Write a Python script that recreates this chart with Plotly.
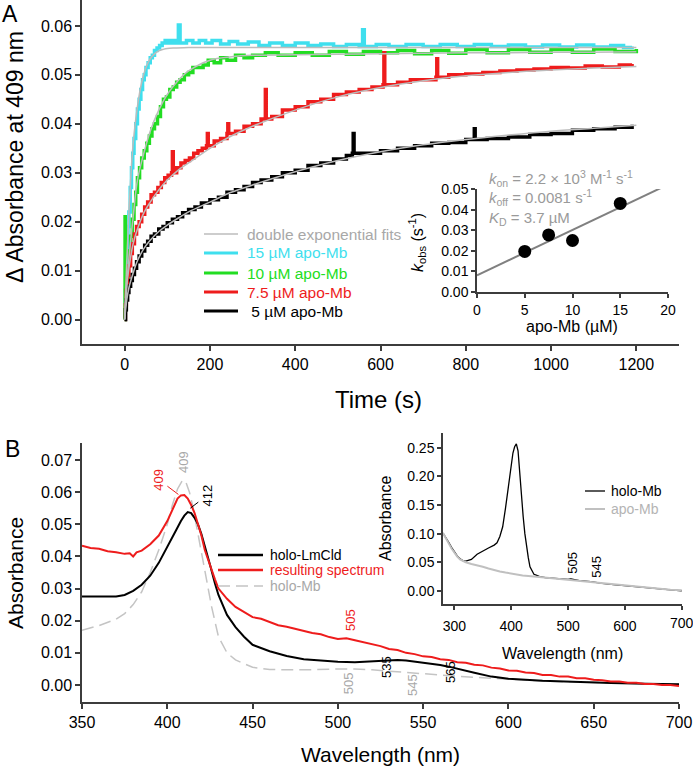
import plotly.graph_objects as go

W, H = 693, 771
FONT = "Liberation Sans, Arial, sans-serif"

# ---- panel A: binding kinetics (time in s, delta absorbance at 409 nm) ----
t_15 = [0, 2, 4, 6, 8, 10, 13, 16, 19, 22, 26, 30, 34, 38, 42, 46, 50, 55, 60, 65, 70, 76, 82, 88,
        95, 102, 110, 118, 124, 126, 130, 145, 160, 175, 190, 205, 225, 245, 265, 290, 315, 340,
        370, 400, 430, 460, 490, 520, 550, 558, 562, 590, 620, 660, 700, 740, 780, 820, 860, 900,
        940, 980, 1020, 1060, 1100, 1140, 1170, 1190]
a_15 = [0, 0.006, 0.011, 0.015, 0.019, 0.022, 0.027, 0.031, 0.034, 0.037, 0.040, 0.043, 0.045,
        0.047, 0.049, 0.050, 0.0515, 0.0525, 0.0535, 0.054, 0.055, 0.0555, 0.056, 0.0565, 0.057,
        0.0565, 0.057, 0.0565, 0.057, 0.0602, 0.0565, 0.057, 0.0565, 0.057, 0.0565, 0.057, 0.0563,
        0.0568, 0.0563, 0.0567, 0.056, 0.0565, 0.056, 0.0565, 0.056, 0.0563, 0.0558, 0.0562, 0.0558,
        0.0592, 0.0558, 0.0562, 0.0558, 0.0562, 0.0558, 0.0562, 0.0558, 0.0562, 0.0558, 0.0561,
        0.0557, 0.0561, 0.0557, 0.0561, 0.0557, 0.056, 0.0556, 0.0558]

t_10 = [0, 1, 1.5, 3, 5, 8, 11, 14, 18, 22, 26, 30, 35, 40, 46, 52, 58, 64, 70, 77, 84, 91, 98,
        106, 114, 122, 130, 140, 150, 160, 172, 184, 196, 210, 225, 240, 260, 280, 300, 330, 360,
        400, 440, 480, 520, 560, 600, 640, 680, 720, 760, 800, 850, 900, 950, 1000, 1050, 1100,
        1150, 1200]
a_10 = [0, 0.021, 0.002, 0.005, 0.0075, 0.011, 0.014, 0.017, 0.0205, 0.0235, 0.026, 0.029, 0.031,
        0.033, 0.0345, 0.036, 0.0375, 0.039, 0.040, 0.0415, 0.0435, 0.045, 0.0455, 0.047, 0.0475,
        0.0485, 0.049, 0.050, 0.0505, 0.0515, 0.0515, 0.052, 0.053, 0.0525, 0.0535, 0.053, 0.054,
        0.0535, 0.054, 0.0545, 0.054, 0.0545, 0.054, 0.0548, 0.0542, 0.0548, 0.0545, 0.055,
        0.0543, 0.055, 0.0544, 0.0552, 0.0545, 0.0552, 0.0546, 0.0552, 0.0546, 0.0553, 0.0548,
        0.0553]

t_75 = [0, 2, 4, 7, 10, 14, 18, 23, 28, 34, 40, 47, 54, 62, 70, 78, 86, 94, 102, 110, 112, 114,
        122, 132, 142, 152, 162, 172, 182, 192, 194, 196, 210, 225, 240, 242, 244, 260, 280, 300,
        320, 330, 332, 345, 370, 400, 430, 460, 490, 520, 550, 580, 606, 608, 610, 640, 670, 700,
        730, 732, 734, 760, 800, 840, 880, 920, 960, 1000, 1040, 1080, 1120, 1160, 1190]
a_75 = [0, 0.003, 0.006, 0.009, 0.011, 0.0135, 0.0155, 0.0175, 0.019, 0.020, 0.0215, 0.023, 0.024,
        0.0255, 0.026, 0.027, 0.028, 0.029, 0.0295, 0.030, 0.0343, 0.030, 0.031, 0.032, 0.0325,
        0.033, 0.034, 0.0345, 0.035, 0.0355, 0.038, 0.0355, 0.0365, 0.037, 0.038, 0.040, 0.038,
        0.0385, 0.0395, 0.040, 0.041, 0.047, 0.041, 0.0415, 0.0428, 0.0435, 0.0445, 0.045, 0.046,
        0.0465, 0.047, 0.0475, 0.048, 0.0545, 0.048, 0.0485, 0.049, 0.049, 0.0495, 0.0533, 0.0495,
        0.050, 0.0502, 0.0505, 0.0508, 0.051, 0.0512, 0.0515, 0.0514, 0.0518, 0.0516, 0.052, 0.0522]

t_5 = [0, 2, 4, 7, 10, 14, 18, 23, 28, 34, 40, 47, 54, 62, 70, 80, 90, 100, 112, 124, 136, 150,
       165, 180, 200, 220, 240, 260, 280, 300, 320, 345, 370, 400, 430, 460, 490, 520, 534, 536,
       538, 560, 600, 640, 680, 720, 760, 800, 818, 820, 822, 850, 900, 950, 1000, 1050, 1100,
       1150, 1190]
a_5 = [0, 0.002, 0.004, 0.0055, 0.0068, 0.008, 0.0092, 0.0105, 0.0118, 0.013, 0.014, 0.0152,
       0.016, 0.017, 0.0175, 0.0185, 0.019, 0.0198, 0.0205, 0.021, 0.0218, 0.0225, 0.023, 0.0238,
       0.0245, 0.025, 0.026, 0.0265, 0.0272, 0.028, 0.0285, 0.0292, 0.030, 0.0305, 0.0315, 0.032,
       0.0328, 0.0335, 0.034, 0.038, 0.034, 0.034, 0.0345, 0.035, 0.0355, 0.036, 0.0362, 0.0368,
       0.0368, 0.039, 0.0368, 0.037, 0.0373, 0.0378, 0.038, 0.0387, 0.039, 0.0393, 0.0398]

# double exponential fits
t_fit_15 = [0, 5, 10, 15, 20, 30, 40, 50, 60, 70, 80, 90, 100, 120, 150, 200, 300, 500, 800, 1200]
fit_15 = [0, 0.012, 0.022, 0.030, 0.036, 0.0435, 0.0485, 0.0515, 0.0533, 0.0543, 0.0549, 0.0552,
          0.0554, 0.0555, 0.0556, 0.0556, 0.0556, 0.0556, 0.0556, 0.0556]
t_fit = [0, 5, 10, 20, 30, 45, 60, 80, 100, 125, 150, 200, 250, 300, 400, 500, 600, 700, 800, 900,
         1000, 1100, 1200]
fit_10 = [0, 0.007, 0.0125, 0.021, 0.0285, 0.034, 0.0385, 0.0428, 0.046, 0.0488, 0.0508, 0.053,
          0.0537, 0.054, 0.0541, 0.0542, 0.0543, 0.0544, 0.0545, 0.0545, 0.0546, 0.0546, 0.0547]
fit_75 = [0, 0.007, 0.0105, 0.0155, 0.0185, 0.0218, 0.024, 0.0265, 0.0285, 0.0305, 0.032, 0.035,
          0.0375, 0.0395, 0.0428, 0.0455, 0.0474, 0.0488, 0.0498, 0.0505, 0.051, 0.0514, 0.0517]
fit_5 = [0, 0.004, 0.0065, 0.0095, 0.012, 0.0145, 0.0162, 0.018, 0.0193, 0.0207, 0.022, 0.024,
         0.026, 0.0275, 0.0302, 0.0325, 0.0343, 0.0357, 0.0368, 0.0377, 0.0385, 0.0391, 0.0397]

# inset A: observed rate vs apo-Mb
apo_conc = [5, 7.5, 10, 15]
k_obs = [0.0197, 0.0277, 0.025, 0.043]
kfit_x = [0, 19.3]
kfit_y = [0.0081, 0.0506]

legend_a = ["double exponential fits", "15 µM apo-Mb", "10 µM apo-Mb", "7.5 µM apo-Mb",
            "\u00a05 µM apo-Mb"]

# ---- panel B: spectra ----
wl_lmcld = [350, 360, 370, 375, 380, 385, 390, 395, 400, 405, 408, 410, 412, 414, 416, 418, 420,
            422, 425, 428, 430, 435, 440, 445, 450, 460, 470, 480, 490, 500, 510, 520, 530, 535,
            540, 550, 560, 565, 570, 580, 590, 600, 620, 640, 660, 680, 700]
abs_lmcld = [0.0275, 0.0274, 0.0275, 0.0280, 0.0293, 0.0312, 0.0340, 0.0380, 0.0428, 0.0480,
             0.0510, 0.0527, 0.0538, 0.0535, 0.0520, 0.0500, 0.0470, 0.0435, 0.0375, 0.0315,
             0.0280, 0.0218, 0.0180, 0.0150, 0.0125, 0.0105, 0.0090, 0.0080, 0.0075, 0.0072,
             0.0071, 0.0073, 0.0077, 0.0078, 0.0076, 0.0070, 0.0062, 0.0057, 0.0050, 0.0038,
             0.0026, 0.0019, 0.0013, 0.0009, 0.0006, 0.0004, 0.0002]

wl_res = [350, 355, 360, 365, 370, 375, 378, 380, 382, 385, 390, 395, 400, 403, 406, 408, 410, 412,
          414, 416, 418, 420, 422, 425, 428, 430, 435, 440, 445, 450, 455, 460, 465, 470, 475, 480,
          485, 490, 495, 500, 505, 510, 515, 520, 525, 530, 535, 540, 545, 550, 555, 560, 565, 570,
          575, 580, 585, 590, 595, 600, 605, 610, 615, 620, 625, 630, 635, 640, 645, 650, 655, 660,
          665, 670, 675, 680, 685, 690, 695, 700]
abs_res = [0.0433, 0.0426, 0.0424, 0.0416, 0.0413, 0.0408, 0.0410, 0.0400, 0.0413, 0.0418, 0.0438,
           0.0465, 0.0510, 0.0545, 0.0580, 0.0590, 0.0591, 0.0580, 0.0560, 0.0535, 0.0500, 0.0465,
           0.0420, 0.0372, 0.0328, 0.0300, 0.0268, 0.0243, 0.0226, 0.0211, 0.0206, 0.0195, 0.0186,
           0.0181, 0.0174, 0.0169, 0.0162, 0.0158, 0.0149, 0.0143, 0.0145, 0.0139, 0.0133, 0.0125,
           0.0121, 0.0112, 0.0109, 0.0100, 0.0096, 0.0089, 0.0087, 0.0080, 0.0078, 0.0071, 0.0069,
           0.0063, 0.0061, 0.0054, 0.0051, 0.0045, 0.0044, 0.0039, 0.0037, 0.0031, 0.0031, 0.0026,
           0.0026, 0.0021, 0.0021, 0.0016, 0.0015, 0.0011, 0.0011, 0.0007, 0.0007, 0.0003, 0.0003,
           0.0000, 0.0000, -0.0003]

wl_mb = [350, 360, 370, 375, 380, 385, 390, 395, 400, 403, 406, 409, 411, 413, 415, 418, 420, 423,
         426, 430, 435, 440, 450, 460, 480, 500, 510, 520, 540, 560, 580, 600, 620, 640, 660, 680,
         700]
abs_mb = [0.0170, 0.0185, 0.0205, 0.0222, 0.0250, 0.0290, 0.0350, 0.0420, 0.0500, 0.0560, 0.0610,
          0.0638, 0.0630, 0.0600, 0.0555, 0.0470, 0.0410, 0.0320, 0.0243, 0.0150, 0.0100, 0.0078,
          0.0055, 0.0048, 0.0047, 0.0050, 0.0050, 0.0047, 0.0038, 0.0031, 0.0024, 0.0018, 0.0012,
          0.0009, 0.0006, 0.0004, 0.0002]

legend_b = ["holo-LmCld", "resulting spectrum", "holo-Mb"]

# inset B: myoglobin spectra
wl_holo = [280, 285, 290, 295, 300, 305, 310, 315, 320, 325, 330, 340, 350, 360, 370, 375, 380,
           385, 390, 395, 400, 403, 406, 409, 412, 415, 418, 421, 424, 427, 430, 433, 437, 440,
           445, 450, 460, 480, 500, 505, 510, 520, 540, 545, 560, 580, 600, 620, 640, 660, 680, 700]
abs_holo = [0.101, 0.094, 0.085, 0.076, 0.068, 0.061, 0.056, 0.053, 0.052, 0.053, 0.055, 0.064,
            0.070, 0.075, 0.080, 0.084, 0.095, 0.112, 0.145, 0.180, 0.222, 0.241, 0.252, 0.257,
            0.245, 0.200, 0.165, 0.130, 0.100, 0.077, 0.058, 0.042, 0.033, 0.029, 0.027, 0.025,
            0.023, 0.021, 0.020, 0.021, 0.020, 0.018, 0.016, 0.015, 0.013, 0.011, 0.009, 0.007,
            0.006, 0.004, 0.002, 0.000]
wl_apo = [280, 285, 290, 295, 300, 305, 310, 320, 330, 340, 350, 360, 370, 380, 390, 400, 420, 440,
          460, 480, 500, 520, 540, 560, 580, 600, 620, 640, 660, 680, 700]
abs_apo = [0.101, 0.093, 0.083, 0.074, 0.066, 0.060, 0.055, 0.050, 0.047, 0.045, 0.042, 0.039,
           0.036, 0.034, 0.032, 0.030, 0.027, 0.025, 0.023, 0.021, 0.019, 0.017, 0.015, 0.013,
           0.011, 0.009, 0.008, 0.006, 0.004, 0.002, 0.001]

legend_inset_b = ["holo-Mb", "apo-Mb"]

CYAN, GREEN, RED, BLACK = "#3fdfee", "#22dd22", "#ee1c1c", "#000000"
FITGRAY = "#bcbcbc"
AXIS = "#3c3c3c"


def px(x, y):
    # pixel position in the picture -> paper coordinates
    return x / W, 1 - y / H


fig = go.Figure()

for t, a, c in [(t_15, a_15, CYAN), (t_10, a_10, GREEN), (t_75, a_75, RED), (t_5, a_5, BLACK)]:
    fig.add_trace(go.Scatter(x=t, y=a, mode="lines", line=dict(color=c, width=3.5, shape="hv"),
                             xaxis="x", yaxis="y", showlegend=False))
for t, f in [(t_fit_15, fit_15), (t_fit, fit_10), (t_fit, fit_75), (t_fit, fit_5)]:
    fig.add_trace(go.Scatter(x=t, y=f, mode="lines", line=dict(color=FITGRAY, width=1.5, shape="spline"),
                             xaxis="x", yaxis="y", showlegend=False))

fig.add_trace(go.Scatter(x=kfit_x, y=kfit_y, mode="lines", line=dict(color="#808080", width=2),
                         xaxis="x2", yaxis="y2", showlegend=False))
fig.add_trace(go.Scatter(x=apo_conc, y=k_obs, mode="markers", marker=dict(color="black", size=13),
                         xaxis="x2", yaxis="y2", showlegend=False, cliponaxis=False))

fig.add_trace(go.Scatter(x=wl_mb, y=abs_mb, mode="lines",
                         line=dict(color="#c4c4c4", width=1.5, dash="12px,6px"),
                         xaxis="x3", yaxis="y3", showlegend=False))
fig.add_trace(go.Scatter(x=wl_lmcld, y=abs_lmcld, mode="lines", line=dict(color=BLACK, width=2),
                         xaxis="x3", yaxis="y3", showlegend=False))
fig.add_trace(go.Scatter(x=wl_res, y=abs_res, mode="lines", line=dict(color=RED, width=2),
                         xaxis="x3", yaxis="y3", showlegend=False))

fig.add_trace(go.Scatter(x=wl_holo, y=abs_holo, mode="lines", line=dict(color=BLACK, width=1.3),
                         xaxis="x4", yaxis="y4", showlegend=False))
fig.add_trace(go.Scatter(x=wl_apo, y=abs_apo, mode="lines", line=dict(color="#c0c0c0", width=2),
                         xaxis="x4", yaxis="y4", showlegend=False))


def axis(domain, rng, dtick, tick0=0, fmt=None, size=16, ticklen=5, anchor=None):
    d = dict(domain=domain, range=rng, dtick=dtick, tick0=tick0, showgrid=False, zeroline=False,
             showline=True, linecolor=AXIS, linewidth=1.5, ticks="outside", ticklen=ticklen,
             tickcolor=AXIS, tickwidth=1.5, tickfont=dict(size=size, color="black", family=FONT),
             anchor=anchor, automargin=False)
    if fmt:
        d["tickformat"] = fmt
    return d


xa, ya = px(82, 344)
xb, yb = px(679, 0)
xia, yia = px(477, 292)
xib, yib = px(668, 189)
xB0, yB0 = px(82, 702)
xB1, yB1 = px(679, 443)
xIB0, yIB0 = px(443, 604)
xIB1, yIB1 = px(682, 433)

fig.update_layout(
    xaxis=axis([xa, xb], [-100, 1300], 200, anchor="y"),
    yaxis=axis([ya, yb], [-0.005, 0.0653], 0.01, fmt=".2f", anchor="x"),
    xaxis2=axis([xia, xib], [0, 20], 5, size=14, ticklen=4, anchor="y2"),
    yaxis2=axis([yia, yib], [0, 0.05], 0.01, fmt=".2f", size=14, ticklen=4, anchor="x2"),
    xaxis3=axis([xB0, xB1], [350, 700], 50, tick0=350, anchor="y3"),
    yaxis3=axis([yB0, yB1], [-0.0053, 0.0753], 0.01, fmt=".2f", anchor="x3"),
    xaxis4=axis([xIB0, xIB1], [280, 700.4], 100, size=14, ticklen=4, anchor="y4"),
    yaxis4=axis([yIB0, yIB1], [-0.023, 0.276], 0.05, fmt=".2f", size=14, ticklen=4, anchor="x4"),
)
fig.update_xaxes(ticklabelstandoff=4, selector=dict(anchor="y4"))

ann = []


def text(x, y, s, size, color="black", angle=0, anchor="center"):
    px_, py_ = px(x, y)
    ann.append(dict(x=px_, y=py_, xref="paper", yref="paper", text=s, showarrow=False,
                    textangle=angle, xanchor=anchor, yanchor="middle",
                    font=dict(size=size, color=color, family=FONT)))


# panel labels and axis titles
text(10, 14, "A", 23)
text(12, 449, "B", 23)
text(15, 157, "Δ Absorbance at 409 nm", 23, angle=-90)
text(378, 399, "Time (s)", 24)
text(15, 573, "Absorbance", 21, angle=-90)
text(380, 754, "Wavelength (nm)", 21)
text(417, 243, "<i>k</i><sub>obs</sub> (s<sup>-1</sup>)", 16, angle=-90)
text(572, 326, "apo-Mb (µM)", 16)
text(385, 519, "Absorbance", 16, angle=-90)
text(562, 653, "Wavelength (nm)", 16)

# inset B: last tick label sits on the page edge, plotly drops it, so write it out
ann.append(dict(x=700, y=1 - 623 / H, xref="x4", yref="paper", text="700", showarrow=False,
                xanchor="center", yanchor="middle", font=dict(size=14, color="black", family=FONT)))

# inset A fit parameters
GRAYTXT = "#9a9a9a"
text(487, 178, "<i>k</i><sub>on</sub> = 2.2 × 10<sup>3</sup> M<sup>-1</sup> s<sup>-1</sup>", 15, GRAYTXT, anchor="left")
text(487, 198, "<i>k</i><sub>off</sub> = 0.0081 s<sup>-1</sup>", 15, GRAYTXT, anchor="left")
text(487, 218, "<i>K</i><sub>D</sub> = 3.7 µM", 15, GRAYTXT, anchor="left")

shapes = []


def leg_line(x0, x1, y, color, width, dash="solid"):
    a0, b0 = px(x0, y)
    a1, _ = px(x1, y)
    shapes.append(dict(type="line", xref="paper", yref="paper", x0=a0, x1=a1, y0=b0, y1=b0,
                       line=dict(color=color, width=width, dash=dash)))


# legend panel A
rows_a = [234, 253, 273, 292, 311]
cols_a = [(FITGRAY, 1.3, "#a8a8a8"), (CYAN, 3, CYAN), (GREEN, 3, GREEN), (RED, 3, RED), (BLACK, 3, BLACK)]
for lab, yy, (lc, lw, tc) in zip(legend_a, rows_a, cols_a):
    leg_line(204, 238, yy, lc, lw)
    text(245, yy, lab, 15.5, tc, anchor="left")

# legend panel B
rows_b = [555, 570, 586]
cols_b = [(BLACK, 2.5, "solid", BLACK), (RED, 2.5, "solid", RED), ("#c4c4c4", 1.5, "12px,6px", "#a8a8a8")]
for lab, yy, (lc, lw, ds, tc) in zip(legend_b, rows_b, cols_b):
    leg_line(218, 263, yy, lc, lw, ds)
    text(268, yy, lab, 14, tc, anchor="left")

# legend inset B
rows_ib = [491, 509]
cols_ib = [(BLACK, 1.3, BLACK), ("#c0c0c0", 2, "#b4b4b4")]
for lab, yy, (lc, lw, tc) in zip(legend_inset_b, rows_ib, cols_ib):
    leg_line(585, 605, yy, lc, lw)
    text(609, yy, lab, 14, tc, anchor="left")


def peak(x, y, s, color, xr="x3", yr="y3", ax=0, ay=0, arrow=False):
    ann.append(dict(x=x, y=y, xref=xr, yref=yr, text=s, textangle=-90, showarrow=arrow,
                    ax=ax, ay=ay, arrowhead=0, arrowwidth=1, arrowcolor=color,
                    font=dict(size=13, color=color, family=FONT)))


peak(406.5, 0.0593, "409", RED, ax=-20, ay=-15, arrow=True)
peak(409.8, 0.0694, "409", "#a8a8a8")
peak(413.5, 0.0550, "412", BLACK, ax=17, ay=-13, arrow=True)
peak(507.1, 0.0202, "505", RED)
peak(506, 0.0006, "505", "#a8a8a8")
peak(528.8, 0.0056, "535", BLACK)
peak(544, 0.0, "545", "#a8a8a8")
peak(565.7, 0.0040, "565", BLACK)
peak(410, 0.285, "409", BLACK, xr="x4", yr="y4")
peak(508.5, 0.049, "505", BLACK, xr="x4", yr="y4")
peak(550.6, 0.042, "545", BLACK, xr="x4", yr="y4")

fig.update_layout(
    width=W, height=H, autosize=False,
    margin=dict(l=0, r=0, t=0, b=0, pad=0, autoexpand=False),
    paper_bgcolor="white", plot_bgcolor="rgba(0,0,0,0)",
    font=dict(family=FONT, color="black"),
    showlegend=False,
    annotations=ann, shapes=shapes,
)

# the page body has a default 8px margin; drop it so the figure sits at the window corner
fig.write_html("out.html", config={"displayModeBar": False},
               post_script="document.body.style.margin='0px';")
